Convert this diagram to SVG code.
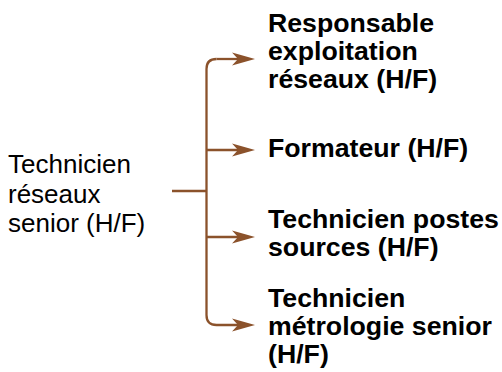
<svg xmlns="http://www.w3.org/2000/svg" width="502" height="372" viewBox="0 0 502 372">
<style>
.l{font-family:"Liberation Sans",Arial,sans-serif;font-size:26px;fill:#000}
.b{font-weight:bold;font-size:26.7px}
.c{fill:none;stroke:#8B522B;stroke-width:2.3}
.h{fill:#8B522B}
</style>
<defs>
<path id="ah" d="M0,0 L-23,-6.5 L-17,0 L-23,6.5 Z"/>
</defs>
<rect width="502" height="372" fill="#fff"/>
<g id="connectors">
<path class="c" d="M172,191 H206.5"/>
<path class="c" d="M216.5,59 Q206.5,59 206.5,69 V315 Q206.5,325 216.5,325 H239"/>
<path class="c" d="M216.5,59 H239"/>
<path class="c" d="M206.5,150 H239"/>
<path class="c" d="M206.5,237 H239"/>
<use href="#ah" class="h" x="255" y="59"/>
<use href="#ah" class="h" x="255" y="150"/>
<use href="#ah" class="h" x="255" y="237"/>
<use href="#ah" class="h" x="255" y="325"/>
</g>
<g id="source">
<text class="l" x="8" y="173">Technicien</text>
<text class="l" x="8" y="203">réseaux</text>
<text class="l" x="8" y="232">senior (H/F)</text>
</g>
<g id="t1">
<text class="l b" x="268" y="32">Responsable</text>
<text class="l b" x="268" y="60">exploitation</text>
<text class="l b" x="268" y="88">réseaux (H/F)</text>
</g>
<g id="t2">
<text class="l b" x="268" y="157">Formateur (H/F)</text>
</g>
<g id="t3">
<text class="l b" x="268" y="228">Technicien postes</text>
<text class="l b" x="268" y="256">sources (H/F)</text>
</g>
<g id="t4">
<text class="l b" x="268" y="307">Technicien</text>
<text class="l b" x="268" y="335">métrologie senior</text>
<text class="l b" x="268" y="363">(H/F)</text>
</g>
</svg>
